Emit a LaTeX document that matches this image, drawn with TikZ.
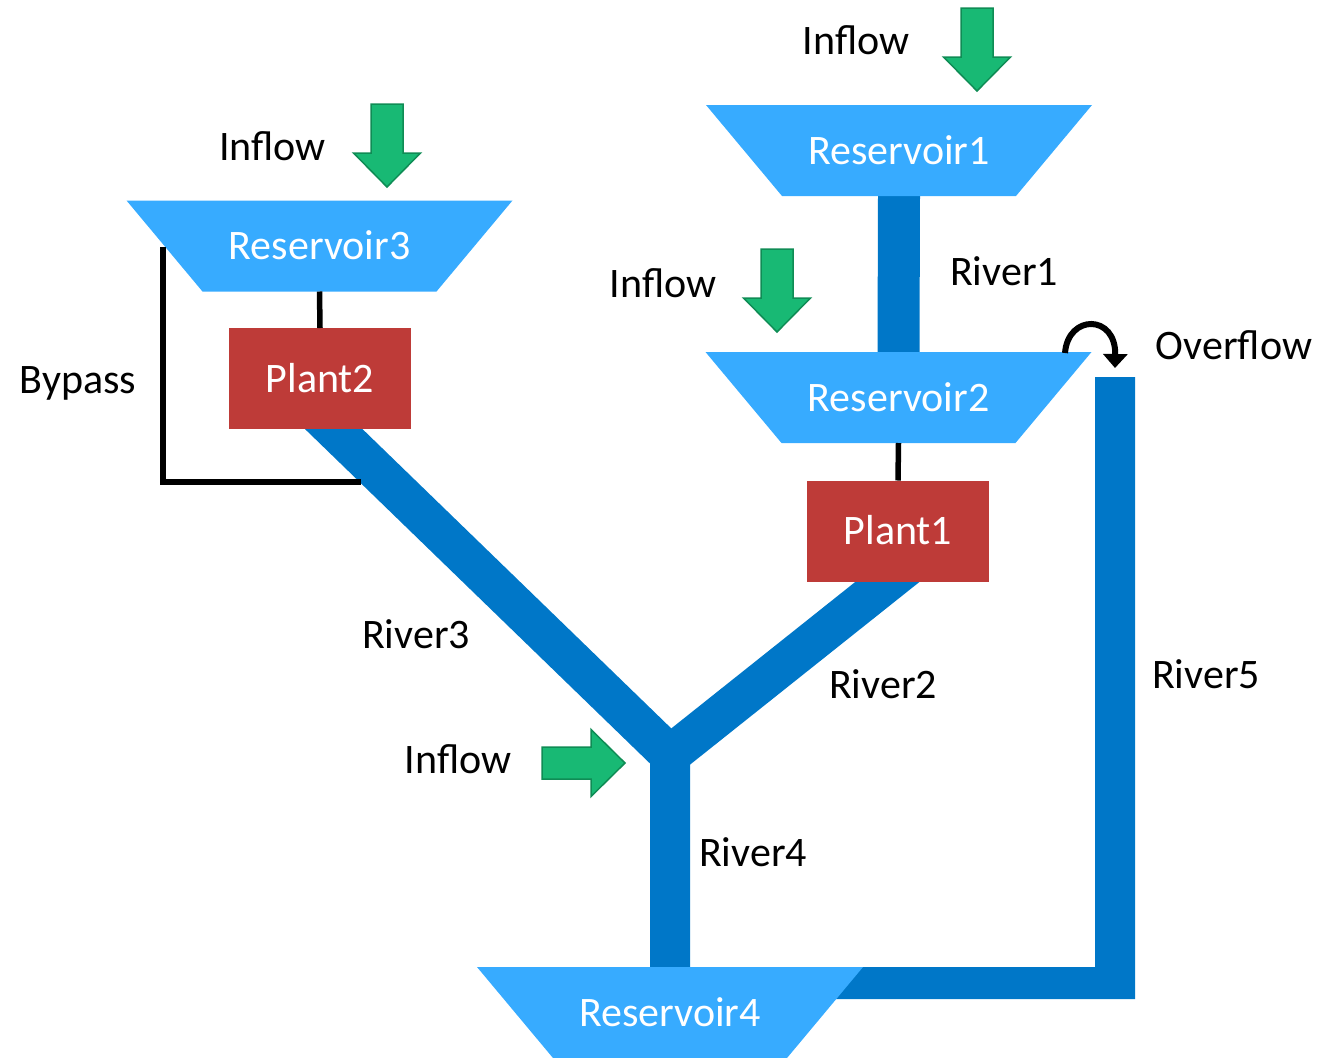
\documentclass[tikz,border=0pt]{standalone}
\usepackage{fontspec}
\setmainfont{Carlito}
\usetikzlibrary{arrows.meta,calc}
\pgfdeclarelayer{bg}
\pgfdeclarelayer{mid}
\pgfsetlayers{bg,mid,main}
\definecolor{resblue}{RGB}{55,171,255}
\definecolor{riverblue}{RGB}{0,119,200}
\definecolor{plantred}{RGB}{190,59,56}
\definecolor{arrowgreen}{RGB}{24,185,116}
\definecolor{arrowedge}{RGB}{15,140,85}
\begin{document}
\begin{tikzpicture}[x=1pt,y=-1pt,
  every node/.style={font=\fontsize{42}{50}\selectfont},
  res/.style={rectangle, minimum width=234, minimum height=91,
    inner sep=0, outer sep=0, text=white, text height=27, text depth=0},
  resfill/.style={fill=resblue},
  plant/.style={rectangle, minimum width=182, minimum height=101, inner sep=0,
    outer sep=0, fill=plantred, text=white, text height=27, text depth=0},
  lbl/.style={anchor=base, inner sep=0, text=black},
  river/.style={draw=riverblue, line width=40, line join=miter},
  link/.style={draw=black, line width=5.5},
  inflowstyle/.style={fill=arrowgreen, draw=arrowedge, line width=1.5, line join=miter},
  pics/inflowarrow/.style={code={\path[inflowstyle] (-16,0) -- (16,0) -- (16,49)
    -- (33.5,49) -- (0,83) -- (-33.5,49) -- (-16,49) -- cycle;}}
]
\useasboundingbox (0,0) rectangle (1342,1058);

% reservoirs and plants
\node[res] (r1) at (899,150.5) {Reservoir1};
\node[res] (r2) at (898.5,397.5) {Reservoir2};
\node[res] (r3) at (319.5,246) {Reservoir3};
\node[res] (r4) at (670,1012.5) {Reservoir4};
\node[plant] (p2) at (320,378.5) {Plant2};
\node[plant] (p1) at (898,531) {Plant1};

\begin{pgfonlayer}{mid}
  \foreach \r in {r1,r2,r3,r4}{
    \fill[resfill] ($(\r.north west)+(-76,0)$) -- ($(\r.north east)+(76,0)$)
      -- (\r.south east) -- (\r.south west) -- cycle;
  }
\end{pgfonlayer}

\coordinate (J) at (670,755);

% rivers (behind)
\begin{pgfonlayer}{bg}
  \draw[river, line width=42] (r1.south) -- (r2.north);
  \draw[river] ($(p2.south)+(-8,-21)$) -- (J) -- (r4.north);
  \draw[river] ($(p1.south)+(10,-16)$) -- (J);
  \fill[riverblue] (1095,377) -- (1135,377) -- (1135,999) -- (800,999)
    -- (800,967) -- (1095,967) -- cycle;
\end{pgfonlayer}

% black links
\draw[link] (r3.south) -- (p2.north);
\draw[link] (r2.south) -- (p1.north);
\coordinate (bp1) at (163,247);
\coordinate (bp2) at (361,482);
\draw[link] (bp1) |- (bp2);

% overflow arrow
\coordinate (ov1) at (1065,353);
\coordinate (ov2) at (1115,368);
\draw[line width=6, -{Triangle[length=14pt,width=24pt]}]
  (ov1) .. controls (1068,314) and (1116,314) .. (ov2);

% inflow arrows
\pic at (977,8) {inflowarrow};
\pic at (387,104) {inflowarrow};
\pic at (777,249) {inflowarrow};
\pic[rotate=90] at (542,763) {inflowarrow};

% labels
\node[lbl] (in1) at (856,54) {Inflow};
\node[lbl] (in3) at (272.5,160) {Inflow};
\node[lbl] (in2) at (663,297) {Inflow};
\node[lbl] (in4) at (458,773) {Inflow};
\node[lbl] (lr1) at (1004,285) {River1};
\node[lbl] (lov) at (1234,359) {Overflow};
\node[lbl] (lbp) at (78,393) {Bypass};
\node[lbl] (lr3) at (416,648) {River3};
\node[lbl] (lr2) at (883,698) {River2};
\node[lbl] (lr5) at (1206,688) {River5};
\node[lbl] (lr4) at (753,866) {River4};
\end{tikzpicture}
\end{document}
